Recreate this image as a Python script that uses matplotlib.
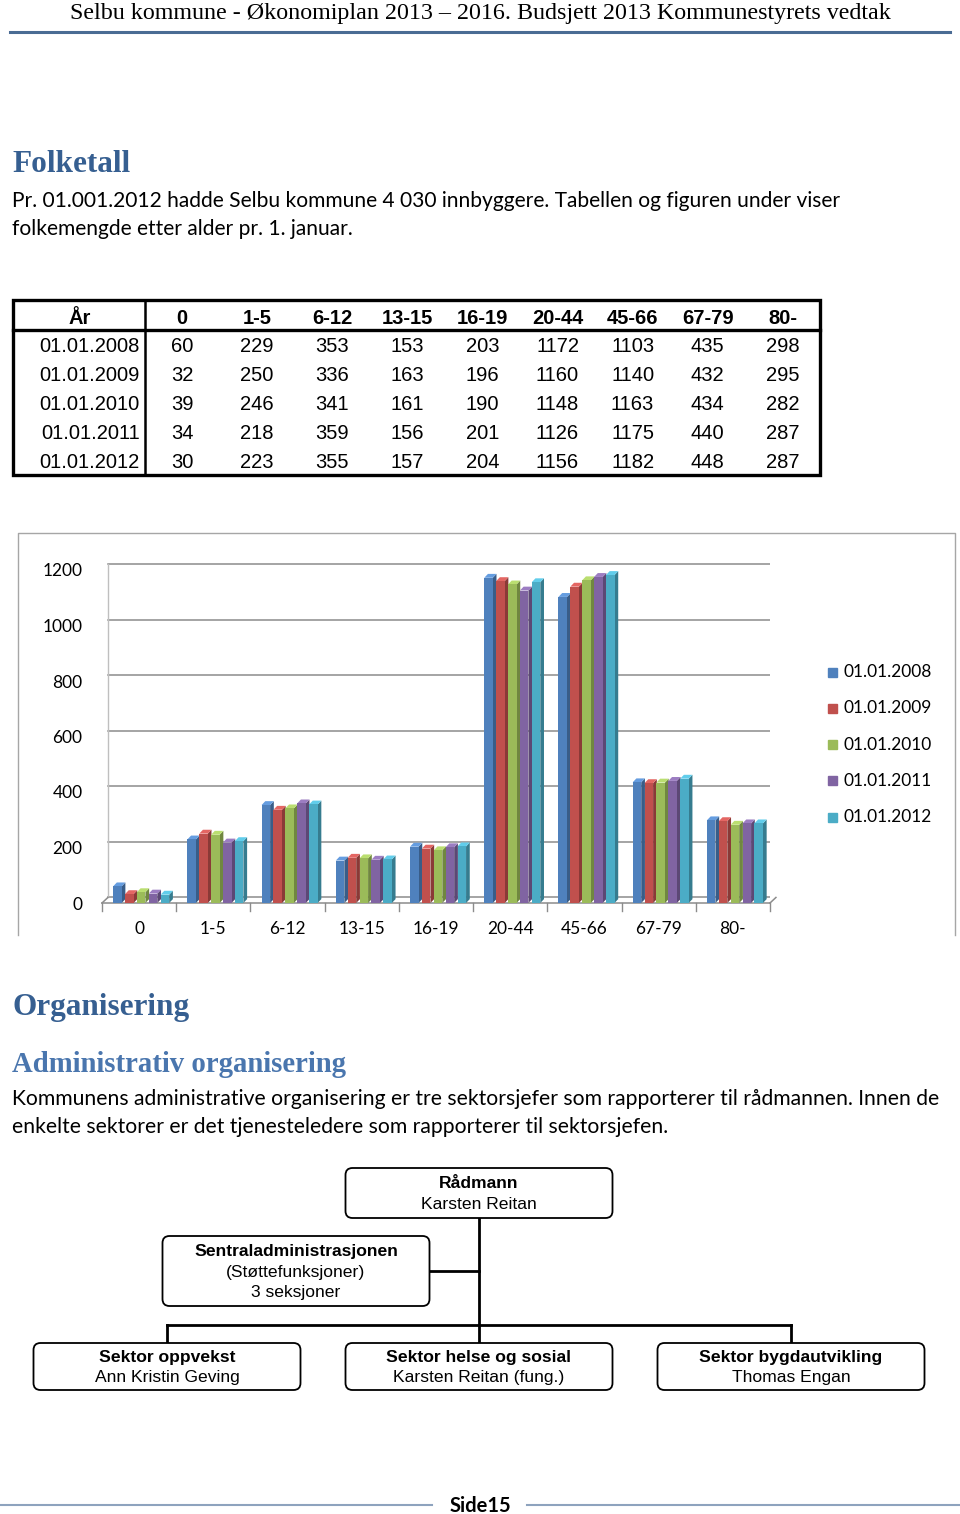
import matplotlib
matplotlib.use("Agg")
import matplotlib.pyplot as plt
from matplotlib.patches import Rectangle, Polygon, FancyBboxPatch
from matplotlib.colors import to_rgb

# data from the table / chart
age_groups = ["0", "1-5", "6-12", "13-15", "16-19", "20-44", "45-66", "67-79", "80-"]
years = ["01.01.2008", "01.01.2009", "01.01.2010", "01.01.2011", "01.01.2012"]
pop_2008 = [60, 229, 353, 153, 203, 1172, 1103, 435, 298]
pop_2009 = [32, 250, 336, 163, 196, 1160, 1140, 432, 295]
pop_2010 = [39, 246, 341, 161, 190, 1148, 1163, 434, 282]
pop_2011 = [34, 218, 359, 156, 201, 1126, 1175, 440, 287]
pop_2012 = [30, 223, 355, 157, 204, 1156, 1182, 448, 287]
series = [pop_2008, pop_2009, pop_2010, pop_2011, pop_2012]
colors = ["#4F81BD", "#C0504D", "#9BBB59", "#8064A2", "#4BACC6"]
y_ticks = [0, 200, 400, 600, 800, 1000, 1200]

header_title = "Selbu kommune - Økonomiplan 2013 – 2016. Budsjett 2013 Kommunestyrets vedtak"
intro_lines = ["Pr. 01.001.2012 hadde Selbu kommune 4 030 innbyggere. Tabellen og figuren under viser",
               "folkemengde etter alder pr. 1. januar."]
org_lines = ["Kommunens administrative organisering er tre sektorsjefer som rapporterer til rådmannen. Innen de",
             "enkelte sektorer er det tjenesteledere som rapporterer til sektorsjefen."]

W, H = 960, 1514
SERIF = "Liberation Serif"
BODY = "Lato"
ARIAL = "Liberation Sans"
H1 = "#365F91"
H2 = "#4A76AE"

fig = plt.figure(figsize=(W / 100, H / 100), dpi=100)
page = fig.add_axes([0, 0, 1, 1])
page.set_xlim(0, W)
page.set_ylim(H, 0)
page.axis("off")

# page header
page.text(480, 13, header_title, ha="center", va="center", fontsize=17.3, family=SERIF)
page.plot([10, 950], [32, 32], color="#4A6C94", lw=2.2)

page.text(12, 165, "Folketall", va="center", fontsize=22.5, fontweight="bold", family=SERIF, color=H1)
for i, line in enumerate(intro_lines):
    page.text(12, 201 + 28 * i, line, va="center", fontsize=15.1, family=BODY)

# table
col_x = [182 + 75.1 * j for j in range(len(age_groups))]
page.text(80, 318, "År", ha="center", va="center", fontsize=14.5, fontweight="bold", family=ARIAL)
for j, g in enumerate(age_groups):
    page.text(col_x[j], 318, g, ha="center", va="center", fontsize=14.5, fontweight="bold", family=ARIAL)
for i, (yr, vals) in enumerate(zip(years, series)):
    ry = 347 + 28.8 * i
    page.text(140, ry, yr, ha="right", va="center", fontsize=14.5, family=ARIAL)
    for j, v in enumerate(vals):
        page.text(col_x[j], ry, str(v), ha="center", va="center", fontsize=14.5, family=ARIAL)
page.add_patch(Rectangle((13, 300), 807, 175, fill=False, lw=2.4, ec="black"))
page.plot([13, 820], [330, 330], color="black", lw=2.4)
page.plot([145, 145], [300, 475], color="black", lw=1.8)

# chart frame
page.plot([18, 18, 955, 955], [935, 533, 533, 935], color="#A6A6A6", lw=1)

# 3d-ish clustered bar chart
ax = fig.add_axes([102 / W, 1 - 903 / H, 668 / W, (1230 * 333 / 1200) / H])
ax.set_xlim(-0.5, 8.5)
ax.set_ylim(0, 1230)
for s in ax.spines.values():
    s.set_visible(False)
ax.patch.set_visible(False)

gdx, gdy = 0.08, 20
grid_c = "#8C8C8C"
for t in y_ticks:
    ax.plot([-0.5 + gdx, 8.5 + gdx], [t + gdy, t + gdy], color=grid_c, lw=1.1, zorder=1)
ax.plot([-0.5 + gdx, -0.5 + gdx], [gdy, 1200 + gdy], color="#BFBFBF", lw=1, zorder=1)
ax.plot([-0.5, 8.5], [0, 0], color=grid_c, lw=1.1, zorder=1, clip_on=False)
ax.plot([-0.5, -0.5 + gdx], [0, gdy], color=grid_c, lw=1.1, zorder=1, clip_on=False)
ax.plot([8.5, 8.5 + gdx], [0, gdy], color=grid_c, lw=1.1, zorder=1, clip_on=False)
for b in range(len(age_groups) + 1):
    ax.plot([b - 0.5, b - 0.5], [0, -28], color=grid_c, lw=1, clip_on=False)

face_w, side_dx, top_dy, stride = 0.115, 0.05, 14, 0.16
z = 2
for j in range(len(age_groups)):
    for i, vals in enumerate(series):
        h = vals[j]
        x0 = j - 0.35 + stride * i
        c = to_rgb(colors[i])
        dark = tuple(v * 0.72 for v in c)
        light = tuple(min(1, v * 1.12 + 0.05) for v in c)
        ax.add_patch(Polygon([(x0 + face_w, 0), (x0 + face_w + side_dx, top_dy),
                              (x0 + face_w + side_dx, h + top_dy), (x0 + face_w, h)],
                             closed=True, fc=dark, ec="none", zorder=z))
        ax.add_patch(Polygon([(x0, h), (x0 + face_w, h), (x0 + face_w + side_dx, h + top_dy),
                              (x0 + side_dx, h + top_dy)], closed=True, fc=light, ec="none", zorder=z))
        ax.bar(x0, h, width=face_w, align="edge", color=c, zorder=z + 0.5)
        z += 1

ax.set_xticks(range(len(age_groups)))
ax.set_xticklabels(age_groups, family=BODY, fontsize=12.5)
ax.set_yticks(y_ticks)
ax.set_yticklabels([str(t) for t in y_ticks], family=BODY, fontsize=12.5)
ax.tick_params(axis="x", length=0, pad=13)
ax.tick_params(axis="y", length=0, pad=14)

# legend
for i, (yr, c) in enumerate(zip(years, colors)):
    ly = 672 + 36.3 * i
    page.add_patch(Rectangle((828, ly - 4.5), 9, 9, color=c))
    page.text(843, ly, yr, va="center", fontsize=12.5, family=BODY)

# organisering
page.text(12, 1007, "Organisering", va="center", fontsize=22.5, fontweight="bold", family=SERIF, color=H1)
page.text(12, 1065, "Administrativ organisering", va="center", fontsize=20.7, fontweight="bold",
          family=SERIF, color=H2)
for i, line in enumerate(org_lines):
    page.text(12, 1099 + 28 * i, line, va="center", fontsize=15.2, family=BODY)


def org_box(cx, top, height, lines, width=267):
    page.add_patch(FancyBboxPatch((cx - width / 2, top), width, height,
                                  boxstyle="round,pad=0,rounding_size=7",
                                  fc="white", ec="black", lw=1.3, zorder=3))
    n = len(lines)
    mid = top + height / 2
    for k, (txt, bold) in enumerate(lines):
        yy = mid + 1 + (k - (n - 1) / 2) * 20.5
        page.text(cx, yy, txt, ha="center", va="center", fontsize=12.6, family=ARIAL,
                  fontweight="bold" if bold else "normal", zorder=4)


lc = dict(color="black", lw=2, zorder=2)
page.plot([479, 479], [1218, 1343], **lc)
page.plot([429, 479], [1271, 1271], **lc)
page.plot([167, 791], [1325, 1325], **lc)
page.plot([167, 167], [1325, 1343], **lc)
page.plot([791, 791], [1325, 1343], **lc)

org_box(479, 1168, 50, [("Rådmann", True), ("Karsten Reitan", False)])
org_box(296, 1236, 70, [("Sentraladministrasjonen", True), ("(Støttefunksjoner)", False), ("3 seksjoner", False)])
org_box(167, 1343, 47, [("Sektor oppvekst", True), ("Ann Kristin Geving", False)])
org_box(479, 1343, 47, [("Sektor helse og sosial", True), ("Karsten Reitan (fung.)", False)])
org_box(791, 1343, 47, [("Sektor bygdautvikling", True), ("Thomas Engan", False)])

# footer
page.plot([0, 432], [1505, 1505], color="#8EA3BE", lw=1.5)
page.plot([527, 960], [1505, 1505], color="#8EA3BE", lw=1.5)
page.text(480, 1506, "Side15", ha="center", va="center", fontsize=14.5, fontweight="bold", family=BODY)

fig.savefig("out.png", dpi=100)
